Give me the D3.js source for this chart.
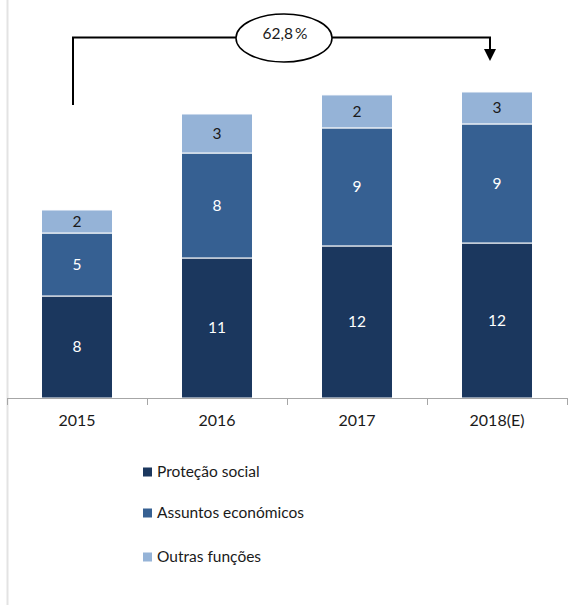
<!DOCTYPE html>
<html><head><meta charset="utf-8">
<script src="https://cdn.jsdelivr.net/npm/d3@7"></script>
<style>
html,body{margin:0;padding:0;background:#fff;}
svg{display:block;font-family:Lato,"Liberation Sans",sans-serif;}
</style></head>
<body>
<svg id="c" width="578" height="605"></svg>
<script>
const years = ["2015", "2016", "2017", "2018(E)"];
const series = ["Proteção social", "Assuntos económicos", "Outras funções"];
const protecao = [7.97, 10.94, 11.88, 12.11];
const assuntos = [4.92, 8.2, 9.22, 9.3];
const outras = [1.8, 3.05, 2.58, 2.5];
const protecaoLabels = ["8", "11", "12", "12"];
const assuntosLabels = ["5", "8", "9", "9"];
const outrasLabels = ["2", "3", "2", "3"];
const growthLabel = "62,8\u2009%";
const colors = ["#1b375e", "#366092", "#95b3d7"];
const labelColors = ["#ffffff", "#ffffff", "#1a1a1a"];

const svg = d3.select("#c");
const baseY = 398;
const x = d3.scaleBand().domain(years).range([7, 567]).paddingInner(0.493).paddingOuter(0.2465);
const y = d3.scaleLinear().domain([0, 24]).range([baseY, baseY - 24 * 12.8]);

// left frame line
svg.append("line").attr("x1", 7.5).attr("x2", 7.5).attr("y1", 0).attr("y2", 605)
  .attr("stroke", "#e3e3e3").attr("stroke-width", 2);

const rows = years.map((yr, i) => ({year: yr, p: protecao[i], a: assuntos[i], o: outras[i]}));
const stack = d3.stack().keys(["p", "a", "o"])(rows);
const lbls = [protecaoLabels, assuntosLabels, outrasLabels];

stack.forEach((layer, si) => {
  const g = svg.append("g");
  g.selectAll("rect").data(layer).join("rect")
    .attr("x", d => x(d.data.year))
    .attr("width", x.bandwidth())
    .attr("y", d => y(d[1]))
    .attr("height", d => y(d[0]) - y(d[1]))
    .attr("fill", colors[si])
    .attr("stroke", "#ffffff").attr("stroke-width", 1);
  g.selectAll("text").data(layer).join("text")
    .attr("x", d => x(d.data.year) + x.bandwidth() / 2)
    .attr("y", d => (y(d[0]) + y(d[1])) / 2)
    .attr("dy", "0.35em")
    .attr("text-anchor", "middle")
    .attr("font-size", 15.5)
    .attr("fill", labelColors[si])
    .text((d, i) => lbls[si][i]);
});

// axis
svg.append("line").attr("x1", 7).attr("x2", 567.5).attr("y1", baseY + 0.5).attr("y2", baseY + 0.5)
  .attr("stroke", "#a6a6a6").attr("stroke-width", 1);
const bounds = years.map(yr => x(yr) - x.step() * x.paddingInner() / 2).concat([567]);
bounds[0] = 7;
svg.selectAll("line.tick").data(bounds).join("line").attr("class", "tick")
  .attr("x1", d => Math.round(d) + 0.5).attr("x2", d => Math.round(d) + 0.5)
  .attr("y1", baseY).attr("y2", baseY + 7)
  .attr("stroke", "#a6a6a6");
const ax = svg.append("g").attr("transform", `translate(0,${baseY})`)
  .call(d3.axisBottom(x).tickSize(0).tickPadding(17));
ax.select(".domain").remove();
ax.selectAll("text").attr("font-size", 16).attr("fill", "#1a1a1a")
  .attr("font-family", "Lato,'Liberation Sans',sans-serif");

// growth annotation
const xL = x(years[0]) + x.bandwidth() / 2 - 4;
const xR = x(years[3]) + x.bandwidth() / 2 - 7;
const yTop = 37.5;
svg.append("path")
  .attr("d", `M${xL},105 V${yTop} H${xR} V50`)
  .attr("fill", "none").attr("stroke", "#000").attr("stroke-width", 2);
svg.append("path")
  .attr("d", `M${xR - 6},49 L${xR + 6},49 L${xR},61 Z`).attr("fill", "#000");
svg.append("ellipse").attr("cx", 284).attr("cy", 38).attr("rx", 48).attr("ry", 24)
  .attr("fill", "#fff").attr("stroke", "#000").attr("stroke-width", 1.5);
svg.append("text").attr("x", 285).attr("y", 34).attr("dy", "0.35em")
  .attr("text-anchor", "middle").attr("font-size", 15.5).attr("fill", "#1a1a1a")
  .text(growthLabel);

// legend
const legY = [472, 513, 557];
const lg = svg.append("g");
series.forEach((s, i) => {
  lg.append("rect").attr("x", 143).attr("y", legY[i] - 4.5).attr("width", 9).attr("height", 9)
    .attr("fill", colors[i]);
  lg.append("text").attr("x", 157).attr("y", legY[i]).attr("dy", "0.35em")
    .attr("font-size", 15.5).attr("fill", "#1a1a1a").text(s);
});
</script>
</body></html>
